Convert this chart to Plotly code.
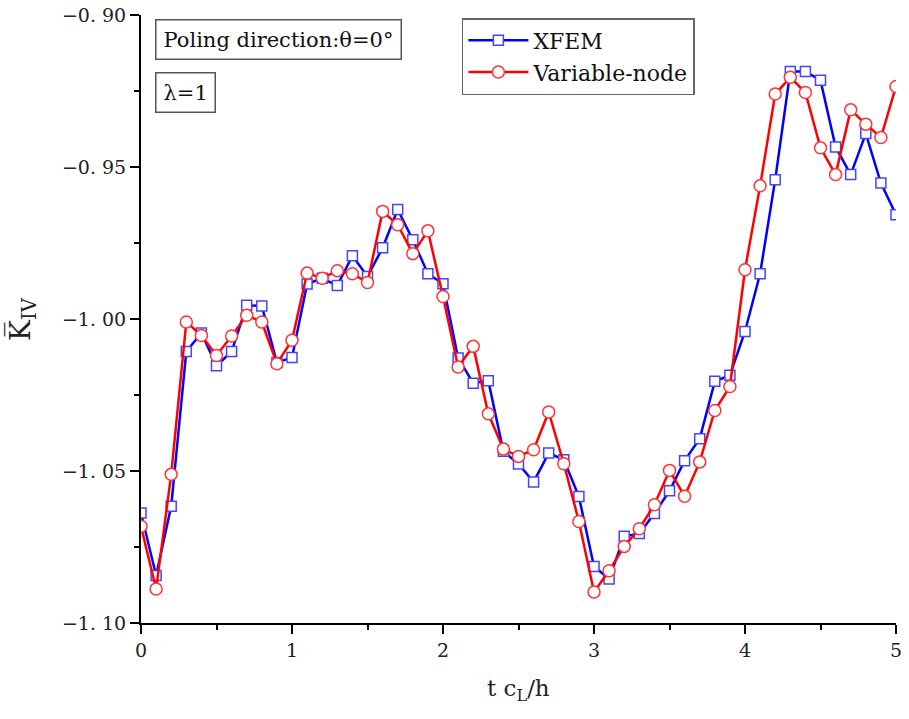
import plotly.graph_objects as go

t = [round(i * 0.1, 1) for i in range(51)]

xfem = [-1.0638, -1.0844, -1.0616, -1.0107, -1.0046, -1.0154, -1.0107, -0.9955, -0.9957, -1.0143,
        -1.0127, -0.9885, -0.9866, -0.9890, -0.9792, -0.9860, -0.9766, -0.9640, -0.9739, -0.9851,
        -0.9884, -1.0128, -1.0211, -1.0203, -1.0435, -1.0477, -1.0536, -1.0441, -1.0463, -1.0584,
        -1.0814, -1.0855, -1.0715, -1.0706, -1.0640, -1.0565, -1.0466, -1.0394, -1.0205, -1.0185,
        -1.0041, -0.9851, -0.9542, -0.9186, -0.9186, -0.9215, -0.9434, -0.9525, -0.9390, -0.9553,
        -0.9657]

variable_node = [-1.0682, -1.0888, -1.0511, -1.0010, -1.0054, -1.0120, -1.0056, -0.9988, -1.0010, -1.0147,
                 -1.0070, -0.9849, -0.9866, -0.9841, -0.9851, -0.9880, -0.9646, -0.9690, -0.9785, -0.9710,
                 -0.9926, -1.0158, -1.0090, -1.0312, -1.0428, -1.0452, -1.0430, -1.0306, -1.0476, -1.0666,
                 -1.0898, -1.0828, -1.0748, -1.0690, -1.0611, -1.0498, -1.0583, -1.0470, -1.0301, -1.0222,
                 -0.9838, -0.9562, -0.9260, -0.9205, -0.9255, -0.9437, -0.9525, -0.9312, -0.9359, -0.9403,
                 -0.9235]

y_ticks = [-1.10, -1.05, -1.00, -0.95, -0.90]
y_ticktext = ["\u22121. 10", "\u22121. 05", "\u22121. 00", "\u22120. 95", "\u22120. 90"]
x_ticks = [0, 1, 2, 3, 4, 5]

FONT = "DejaVu Serif"

fig = go.Figure()
fig.add_trace(go.Scatter(
    x=t, y=xfem, mode="lines+markers", name="XFEM",
    line=dict(color="#0000ff", width=2.5),
    marker=dict(symbol="square", size=10, color="white",
                line=dict(color="#4444ff", width=1.5)),
))
fig.add_trace(go.Scatter(
    x=t, y=variable_node, mode="lines+markers", name="Variable-node",
    line=dict(color="#ff0000", width=2.5),
    marker=dict(symbol="circle", size=12, color="white",
                line=dict(color="#ff3333", width=1.5)),
))

fig.update_layout(
    width=909, height=719,
    margin=dict(l=141, r=13, t=15, b=96),
    paper_bgcolor="white", plot_bgcolor="white",
    font=dict(family=FONT, color="#222222", size=18),
    showlegend=True,
    legend=dict(
        x=0.425, y=0.995, xanchor="left", yanchor="top",
        bordercolor="#666666", borderwidth=1.5, bgcolor="white",
        font=dict(family=FONT, size=22, color="#111111"),
        itemwidth=60, tracegroupgap=0,
    ),
    xaxis=dict(
        range=[0, 5], tickvals=x_ticks, ticktext=[str(v) for v in x_ticks],
        showline=True, linecolor="black", linewidth=2, mirror=False,
        ticks="outside", ticklen=9, tickwidth=2, tickcolor="black",
        minor=dict(ticks="outside", ticklen=5, tickwidth=2, dtick=0.5, tickcolor="black"),
        showgrid=False, zeroline=False, automargin=False,
        tickfont=dict(family=FONT, size=19, color="#222222"),
    ),
    yaxis=dict(
        range=[-1.10, -0.90], tickvals=y_ticks, ticktext=y_ticktext,
        showline=True, linecolor="black", linewidth=2, mirror=False,
        ticks="outside", ticklen=9, tickwidth=2, tickcolor="black",
        minor=dict(ticks="outside", ticklen=5, tickwidth=2, dtick=0.025, tickcolor="black"),
        showgrid=False, zeroline=False, automargin=False,
        tickfont=dict(family=FONT, size=19, color="#222222"),
    ),
    annotations=[
        dict(text="Poling direction:\u03b8=0\u00b0", xref="paper", yref="paper",
             x=0.0185, y=0.993, xanchor="left", yanchor="top", showarrow=False,
             font=dict(family=FONT, size=21, color="#111111"),
             bordercolor="#555555", borderwidth=1.5, borderpad=7, bgcolor="white"),
        dict(text="\u03bb=1", xref="paper", yref="paper",
             x=0.0185, y=0.906, xanchor="left", yanchor="top", showarrow=False,
             font=dict(family=FONT, size=21, color="#111111"),
             bordercolor="#555555", borderwidth=1.5, borderpad=7, bgcolor="white"),
        dict(text="K\u0305<sub>IV</sub>", xref="paper", yref="paper",
             x=(22 - 141) / 755, y=0.5, xanchor="center", yanchor="middle",
             textangle=-90, showarrow=False,
             font=dict(family=FONT, size=28, color="#222222")),
        dict(text="t c<sub>L</sub>/h", xref="paper", yref="paper",
             x=0.5, y=-(690 - 623) / 608, xanchor="center", yanchor="middle",
             showarrow=False,
             font=dict(family=FONT, size=23, color="#222222")),
    ],
)

fig.write_html("out.html")
